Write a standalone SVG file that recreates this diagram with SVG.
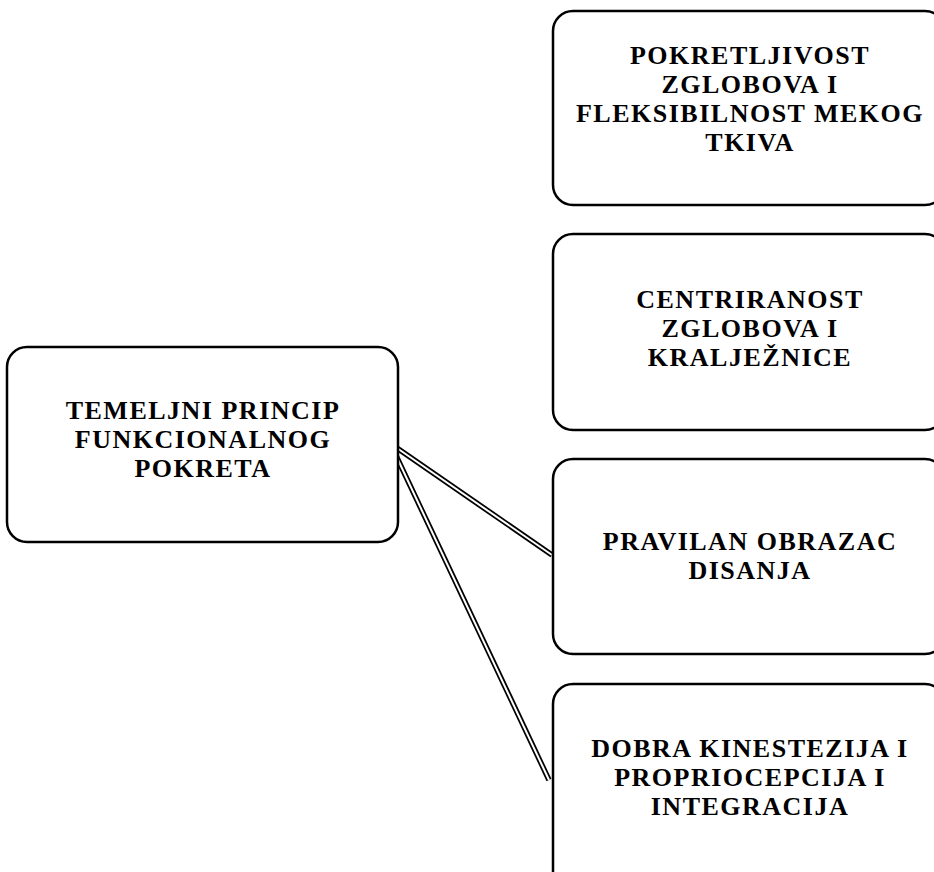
<svg xmlns="http://www.w3.org/2000/svg" width="934" height="872" viewBox="0 0 934 872">
<style>
.box{fill:#fff;stroke:#000;stroke-width:2.5}
.t{font-family:"Liberation Serif","Times New Roman",serif;font-weight:bold;font-size:26px;letter-spacing:1.5px;text-anchor:middle;fill:#000}
.outer{stroke:#000;stroke-width:5.5;fill:none}
.inner{stroke:#fff;stroke-width:2;fill:none}
</style>
<rect width="934" height="872" fill="#fff"/>
<g id="connectors">
<line class="outer" x1="394" y1="446" x2="552" y2="555"/>
<line class="inner" x1="394" y1="446" x2="552" y2="555"/>
<line class="outer" x1="391" y1="445" x2="549" y2="780"/>
<line class="inner" x1="391" y1="445" x2="549" y2="780"/>
</g>
<g id="n0">
<rect class="box" x="7" y="347" width="391" height="195" rx="20"/>
<text class="t" x="203" y="419">TEMELJNI PRINCIP</text>
<text class="t" x="203" y="448">FUNKCIONALNOG</text>
<text class="t" x="203" y="477">POKRETA</text>
</g>
<g id="n1">
<rect class="box" x="553" y="11" width="392" height="194" rx="20"/>
<text class="t" x="750" y="64">POKRETLJIVOST</text>
<text class="t" x="750" y="93">ZGLOBOVA I</text>
<text class="t" x="750" y="122">FLEKSIBILNOST MEKOG</text>
<text class="t" x="750" y="151">TKIVA</text>
</g>
<g id="n2">
<rect class="box" x="553" y="234" width="392" height="196" rx="20"/>
<text class="t" x="750" y="308">CENTRIRANOST</text>
<text class="t" x="750" y="337">ZGLOBOVA I</text>
<text class="t" x="750" y="366">KRALJEŽNICE</text>
</g>
<g id="n3">
<rect class="box" x="553" y="459" width="392" height="195" rx="20"/>
<text class="t" x="750" y="550">PRAVILAN OBRAZAC</text>
<text class="t" x="750" y="579">DISANJA</text>
</g>
<g id="n4">
<rect class="box" x="553" y="684" width="392" height="210" rx="20"/>
<text class="t" x="750" y="757">DOBRA KINESTEZIJA I</text>
<text class="t" x="750" y="786">PROPRIOCEPCIJA I</text>
<text class="t" x="750" y="815">INTEGRACIJA</text>
</g>
</svg>
